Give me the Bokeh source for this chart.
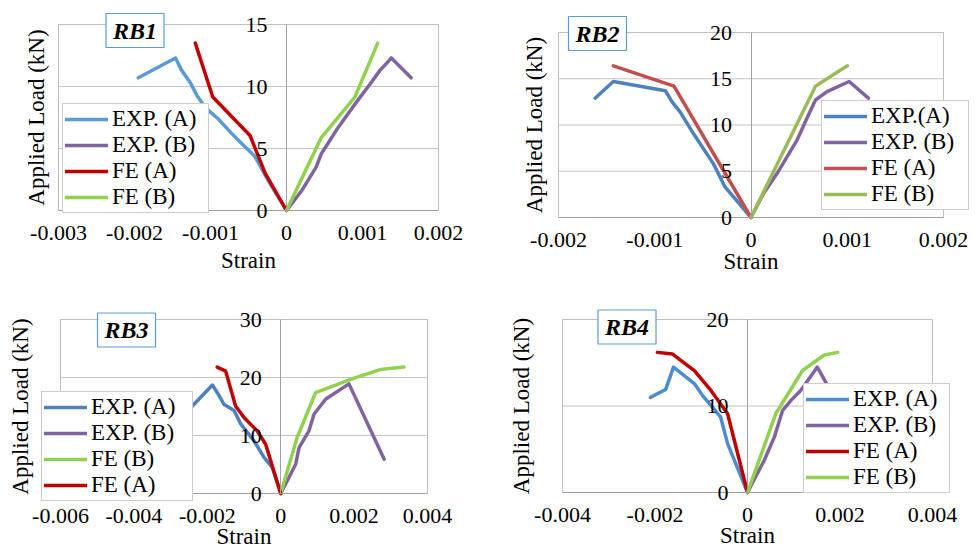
from bokeh.plotting import figure
from bokeh.models import LinearAxis, FixedTicker, Legend, LegendItem, Label, Range1d
from bokeh.layouts import column, row
from bokeh.embed import file_html
from bokeh.resources import INLINE

FONT = "Liberation Serif, Times New Roman, serif"

# ---------------- data ----------------
# RB1
rb1_exp_a_strain = [-0.00195, -0.00146, -0.00138, -0.00127, -0.00118, -0.00107, -0.0009, -0.00072, -0.00059, -0.00042, -0.00024, 0]
rb1_exp_a_load = [10.7, 12.3, 11.3, 10.35, 9.3, 8.3, 7.4, 6.2, 5.4, 4.4, 2.4, 0]
rb1_exp_b_strain = [0, 0.0002, 0.00039, 0.00046, 0.00057, 0.00068, 0.00081, 0.00094, 0.0011, 0.00123, 0.00138, 0.00164]
rb1_exp_b_load = [0, 1.6, 3.5, 4.6, 5.65, 6.7, 7.8, 8.9, 10.2, 11.3, 12.3, 10.7]
rb1_fe_a_strain = [-0.0012, -0.00097, -0.00048, -0.00028, 0]
rb1_fe_a_load = [13.5, 9.15, 6.05, 3.0, 0]
rb1_fe_b_strain = [0, 0.00046, 0.0009, 0.0012]
rb1_fe_b_load = [0, 5.9, 9.15, 13.5]

# RB2
rb2_exp_a_strain = [-0.00162, -0.00143, -0.00089, -0.00082, -0.000735, -0.0006, -0.00039, -0.00027, 0]
rb2_exp_a_load = [12.9, 14.7, 13.7, 12.5, 11.4, 9.1, 5.8, 3.3, 0]
rb2_exp_b_strain = [0, 0.00013, 0.00027, 0.00048, 0.00058, 0.00067, 0.00079, 0.00102, 0.00122]
rb2_exp_b_load = [0, 2.6, 4.75, 8.4, 10.7, 12.7, 13.6, 14.7, 12.9]
rb2_fe_a_strain = [-0.00143, -0.0008, 0]
rb2_fe_a_load = [16.4, 14.2, 0]
rb2_fe_b_strain = [0, 0.00067, 0.001]
rb2_fe_b_load = [0, 14.2, 16.4]

# RB3
rb3_exp_a_strain = [-0.0028, -0.00186, -0.00168, -0.00155, -0.00127, -0.00109, -0.00073, -0.00045, -0.00023, 0]
rb3_exp_a_load = [12.5, 18.7, 16.9, 15.4, 14.3, 12.0, 9.1, 6.2, 4.5, 0]
rb3_exp_b_strain = [0, 0.00018, 0.00041, 0.0005, 0.00077, 0.00091, 0.00123, 0.00186, 0.00282]
rb3_exp_b_load = [0, 2.2, 5.1, 7.9, 10.8, 13.7, 16.3, 18.9, 5.9]
rb3_fe_a_strain = [-0.00173, -0.0015, -0.00123, -0.001, -0.00064, -0.00041, 0]
rb3_fe_a_load = [21.8, 21.1, 15.1, 13.1, 10.8, 8.5, 0]
rb3_fe_b_strain = [0, 0.00045, 0.00095, 0.002, 0.00273, 0.00336]
rb3_fe_b_load = [0, 9.7, 17.4, 19.9, 21.4, 21.8]

# RB4
rb4_exp_a_strain = [-0.0021, -0.00177, -0.0016, -0.00115, -0.00097, -0.00058, -0.00043, 0]
rb4_exp_a_load = [11.0, 11.9, 14.5, 12.6, 11.2, 8.7, 5.65, 0]
rb4_exp_b_strain = [0, 0.00036, 0.00058, 0.00076, 0.00094, 0.00115, 0.00151, 0.00177, 0.00202]
rb4_exp_b_load = [0, 3.7, 6.4, 9.5, 10.65, 11.8, 14.5, 12.0, 11.0]
rb4_fe_a_strain = [-0.00195, -0.00162, -0.00115, -0.00079, -0.00043, 0]
rb4_fe_a_load = [16.2, 16.0, 14.1, 11.8, 9.1, 0]
rb4_fe_b_strain = [0, 0.00061, 0.00119, 0.00166, 0.00195]
rb4_fe_b_load = [0, 9.1, 14.1, 15.9, 16.2]

# ticks
rb1_xticks = [-0.003, -0.002, -0.001, 0.0, 0.001, 0.002]
rb1_xlabels = ["-0.003", "-0.002", "-0.001", "0", "0.001", "0.002"]
rb1_yticks = [0, 5, 10, 15]
rb2_xticks = [-0.002, -0.001, 0.0, 0.001, 0.002]
rb2_xlabels = ["-0.002", "-0.001", "0", "0.001", "0.002"]
rb2_yticks = [0, 5, 10, 15, 20]
rb3_xticks = [-0.006, -0.004, -0.002, 0.0, 0.002, 0.004]
rb3_xlabels = ["-0.006", "-0.004", "-0.002", "0", "0.002", "0.004"]
rb3_yticks = [0, 10, 20, 30]
rb4_xticks = [-0.004, -0.002, 0.0, 0.002, 0.004]
rb4_xlabels = ["-0.004", "-0.002", "0", "0.002", "0.004"]
rb4_yticks = [0, 10, 20]


def extend(v0, v1, a, b, total):
    s = (v1 - v0) / (b - a)
    return v0 - a * s, v1 + (total - b) * s, s


def panel(w, h, box, xticks, xlabels, yticks, series, legend_loc, legend_lh, legend_width,
          title, title_px, ylab_standoff, xtick_standoff, xlab_standoff):
    L, R, T, B = box
    x0, x1 = xticks[0], xticks[-1]
    y0, y1 = yticks[0], yticks[-1]
    xs, xe, sx = extend(x0, x1, L, R, w)
    ys, ye, sy = extend(y0, y1, h - B, h - T, h)
    p = figure(width=w, height=h, output_backend="svg", toolbar_location=None,
               x_range=Range1d(xs, xe), y_range=Range1d(ys, ye),
               min_border=0, min_border_left=0, min_border_right=0,
               min_border_top=0, min_border_bottom=0)
    p.background_fill_color = "white"
    p.border_fill_color = "white"
    p.outline_line_color = None
    p.xgrid.visible = False
    p.ygrid.visible = False

    # plot box and horizontal gridlines
    gl = [t for t in yticks if t != y0]
    p.segment(x0=[x0] * len(gl), x1=[x1] * len(gl), y0=gl, y1=gl,
              line_color="#c4c4c4", line_width=1)
    p.quad(left=[x0], right=[x1], bottom=[y0], top=[y1], fill_color=None,
           line_color="#bfbfbf", line_width=1)

    # x axis along load = 0
    xa = p.xaxis[0]
    xa.fixed_location = 0
    xa.bounds = (x0, x1)
    xa.ticker = FixedTicker(ticks=xticks)
    xa.major_label_overrides = {t: l for t, l in zip(xticks, xlabels)}
    xa.major_tick_line_color = None
    xa.minor_tick_line_color = None
    xa.major_tick_out = 0
    xa.axis_line_color = "#a0a0a0"
    xa.major_label_text_font = FONT
    xa.major_label_text_font_size = "22px"
    xa.major_label_text_color = "black"
    xa.major_label_standoff = xtick_standoff
    xa.axis_label = "Strain"
    xa.axis_label_text_font = FONT
    xa.axis_label_text_font_size = "23px"
    xa.axis_label_text_font_style = "normal"
    xa.axis_label_text_color = "black"
    xa.axis_label_standoff = xlab_standoff

    # y axis along strain = 0
    ya = p.yaxis[0]
    ya.fixed_location = 0
    ya.bounds = (y0, y1)
    ya.ticker = FixedTicker(ticks=yticks)
    ya.major_tick_line_color = None
    ya.minor_tick_line_color = None
    ya.major_tick_out = 0
    ya.axis_line_color = "#a0a0a0"
    ya.major_label_text_font = FONT
    ya.major_label_text_font_size = "22px"
    ya.major_label_text_color = "black"
    ya.major_label_standoff = 19

    # y axis title at left edge of the box
    la = LinearAxis(fixed_location=x0, bounds=(y0, y1), ticker=FixedTicker(ticks=[]),
                    axis_label="Applied Load (kN)",
                    axis_line_color=None, major_tick_line_color=None, minor_tick_line_color=None,
                    major_tick_out=0, major_label_standoff=0,
                    axis_label_text_font=FONT, axis_label_text_font_size="23px",
                    axis_label_text_font_style="normal", axis_label_text_color="black",
                    axis_label_standoff=ylab_standoff)
    p.add_layout(la, "left")

    items = []
    for label, xv, yv, color in series:
        r = p.line(xv, yv, line_color=color, line_width=3.5, line_cap="round", line_join="round")
        items.append((label, r))
    legend = Legend(items=[LegendItem(label=lb, renderers=[r]) for lb, r in items],
                    location=legend_loc, label_text_font=FONT, label_text_font_size="23px",
                    label_text_color="black", label_text_line_height=legend_lh,
                    glyph_width=43, glyph_height=18, label_height=18, label_standoff=4,
                    label_width=legend_width,
                    spacing=0, padding=2, margin=0,
                    border_line_color="#9a9a9a", border_line_width=1,
                    background_fill_color="white", background_fill_alpha=1)
    p.add_layout(legend)

    lab = Label(x=xs + title_px[0] * sx, y=ye - title_px[1] * sy, text=title, text_font=FONT,
                text_font_size="24px", text_font_style="bold italic", text_color="black",
                text_align="center", text_baseline="middle",
                border_line_color="#5b9bd5", border_line_width=1.2,
                background_fill_color="white",
                padding=dict(left=7, right=7, top=4, bottom=4))
    p.add_layout(lab)
    return p


p1 = panel(480, 300, (58, 438, 24, 210), rb1_xticks, rb1_xlabels, rb1_yticks,
           [("EXP. (A)", rb1_exp_a_strain, rb1_exp_a_load, "#5b9bd5"),
            ("EXP. (B)", rb1_exp_b_strain, rb1_exp_b_load, "#8064a2"),
            ("FE (A)", rb1_fe_a_strain, rb1_fe_a_load, "#c00000"),
            ("FE (B)", rb1_fe_b_strain, rb1_fe_b_load, "#92d050")],
           (62, 87), 1.06, 94, "RB1", (134.5, 30), 10, 15, 5)

p2 = panel(499, 300, (78, 463, 32, 217), rb2_xticks, rb2_xlabels, rb2_yticks,
           [("EXP.(A)", rb2_exp_a_strain, rb2_exp_a_load, "#4f81bd"),
            ("EXP. (B)", rb2_exp_b_strain, rb2_exp_b_load, "#8064a2"),
            ("FE (A)", rb2_fe_a_strain, rb2_fe_a_load, "#c0504d"),
            ("FE (B)", rb2_fe_b_strain, rb2_fe_b_load, "#9bbb59")],
           (341, 90), 1.07, 95, "RB2", (117, 33), 12, 15, -1)

p3 = panel(480, 251, (60, 427, 19, 193), rb3_xticks, rb3_xlabels, rb3_yticks,
           [("EXP. (A)", rb3_exp_a_strain, rb3_exp_a_load, "#4f81bd"),
            ("EXP. (B)", rb3_exp_b_strain, rb3_exp_b_load, "#8064a2"),
            ("FE (B)", rb3_fe_b_strain, rb3_fe_b_load, "#92d050"),
            ("FE (A)", rb3_fe_a_strain, rb3_fe_a_load, "#c00000")],
           (41, 50), 1.13, 99, "RB3", (126, 29.5), 28, 15, -2)

p4 = panel(499, 251, (82, 452, 19, 192), rb4_xticks, rb4_xlabels, rb4_yticks,
           [("EXP. (A)", rb4_exp_a_strain, rb4_exp_a_load, "#4f8ccf"),
            ("EXP. (B)", rb4_exp_b_strain, rb4_exp_b_load, "#8064a2"),
            ("FE (A)", rb4_fe_a_strain, rb4_fe_a_load, "#c00000"),
            ("FE (B)", rb4_fe_b_strain, rb4_fe_b_load, "#92d050")],
           (323, 58), 1.0, 94, "RB4", (146.5, 26.5), 29, 15, -2)

layout = column(row(p1, p2), row(p3, p4))
open("out.html", "w").write(file_html(layout, INLINE))
